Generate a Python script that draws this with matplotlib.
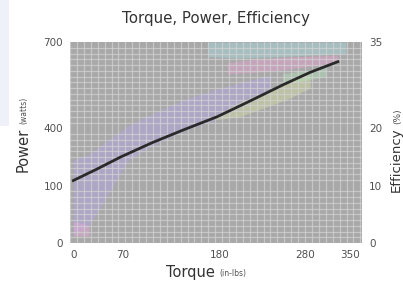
"""
Torque / power / efficiency chart, redrawn from a small scanned picture.
"""

import numpy as np
import matplotlib
matplotlib.use("Agg")
import matplotlib.pyplot as plt
from matplotlib.patches import Rectangle

# --- data ------------------------------------------------------------------
torque = [0, 30, 60, 100, 140, 182, 220, 266, 300, 335]
power = [218, 258, 300, 350, 395, 440, 490, 552, 595, 632]

x_tick_pos = [0, 63, 186, 294, 351]
x_tick_labels = ["0", "70", "180", "280", "350"]
left_tick_pos = [0, 200, 400, 700]
left_tick_labels = ["0", "100", "400", "700"]
right_ticks = [0, 10, 20, 35]

# faint coloured zones behind the grid: (torque, lower power, upper power)
purple_t = [0, 20, 40, 70, 100, 140, 180, 220, 250]
purple_lo = [30, 60, 150, 290, 340, 390, 430, 480, 530]
purple_hi = [290, 310, 350, 410, 450, 500, 535, 565, 585]
pink_t = [195, 230, 270, 310, 335]
pink_lo = [590, 595, 605, 620, 632]
pink_hi = [628, 640, 648, 652, 655]
cyan_t = [170, 210, 260, 300, 345]
cyan_lo = [650, 645, 650, 655, 660]
cyan_hi = [700, 700, 700, 700, 700]
yellow_t = [180, 210, 240, 270, 300]
yellow_lo = [430, 440, 470, 500, 540]
yellow_hi = [445, 490, 525, 560, 590]
green_t = [265, 290, 320]
green_lo = [555, 565, 580]
green_hi = [590, 600, 612]
corner_t = [0, 10, 20]
corner_lo = [25, 25, 25]
corner_hi = [75, 70, 60]

GRAY = "#505050"
DARK = "#333333"

fig = plt.figure(figsize=(4.03, 2.87), dpi=100)
# faint blue tint at the scan's top-left edge
fig.add_artist(Rectangle((0, 0.56), 0.022, 0.44, transform=fig.transFigure,
                         color="#eef2f8", lw=0, zorder=0))

ax = fig.add_axes([0.174, 0.153, 0.725, 0.70])
ax.set_facecolor("#a8a8a8")

zones = [
    (purple_t, purple_lo, purple_hi, "#b4a4ee"),
    (pink_t, pink_lo, pink_hi, "#eea0d6"),
    (cyan_t, cyan_lo, cyan_hi, "#a6dde6"),
    (yellow_t, yellow_lo, yellow_hi, "#d8e4a0"),
    (green_t, green_lo, green_hi, "#ade6b6"),
    (corner_t, corner_lo, corner_hi, "#eea6de"),
]
for t, lo, hi, col in zones:
    ax.fill_between(t, lo, hi, color=col, alpha=0.42, lw=0, zorder=1)

# dense light grid over everything
ax.set_xticks(np.arange(-4, 366, 8.75), minor=True)
ax.set_yticks(np.arange(0, 701, 20), minor=True)
ax.grid(which="minor", color="#d4d4d4", lw=0.9, alpha=0.7, zorder=2)
ax.set_axisbelow(False)

ax.plot(torque, power, color="#2a2a2a", lw=2, zorder=3)

ax.set_xlim(-4, 366)
ax.set_ylim(0, 700)
ax.set_xticks(x_tick_pos)
ax.set_xticklabels(x_tick_labels)
ax.set_yticks(left_tick_pos)
ax.set_yticklabels(left_tick_labels)
ax.tick_params(which="both", length=0, labelsize=7.5, colors=GRAY, pad=5)
for s in ax.spines.values():
    s.set_visible(False)

ax2 = ax.twinx()
ax2.set_ylim(0, 35)
ax2.set_yticks(right_ticks)
ax2.tick_params(length=0, labelsize=7.5, colors=GRAY, pad=5)
for s in ax2.spines.values():
    s.set_visible(False)

fig.text(0.535, 0.935, "Torque, Power, Efficiency", ha="center", va="center",
         fontsize=10.8, color=DARK)

# axis titles: big word plus small unit
fig.text(0.534, 0.052, "Torque", ha="right", va="center", fontsize=10.5, color=DARK)
fig.text(0.545, 0.048, "(in-lbs)", ha="left", va="center", fontsize=5.5, color=GRAY)
fig.text(0.058, 0.555, "Power", ha="center", va="top", rotation=90,
         fontsize=10.5, color=DARK)
fig.text(0.060, 0.568, "(watts)", ha="center", va="bottom", rotation=90,
         fontsize=5.5, color=GRAY)
fig.text(0.984, 0.555, "Efficiency", ha="center", va="top", rotation=90,
         fontsize=9.5, color=DARK)
fig.text(0.986, 0.568, "(%)", ha="center", va="bottom", rotation=90,
         fontsize=6.5, color=GRAY)

fig.savefig("out.png", dpi=100)
